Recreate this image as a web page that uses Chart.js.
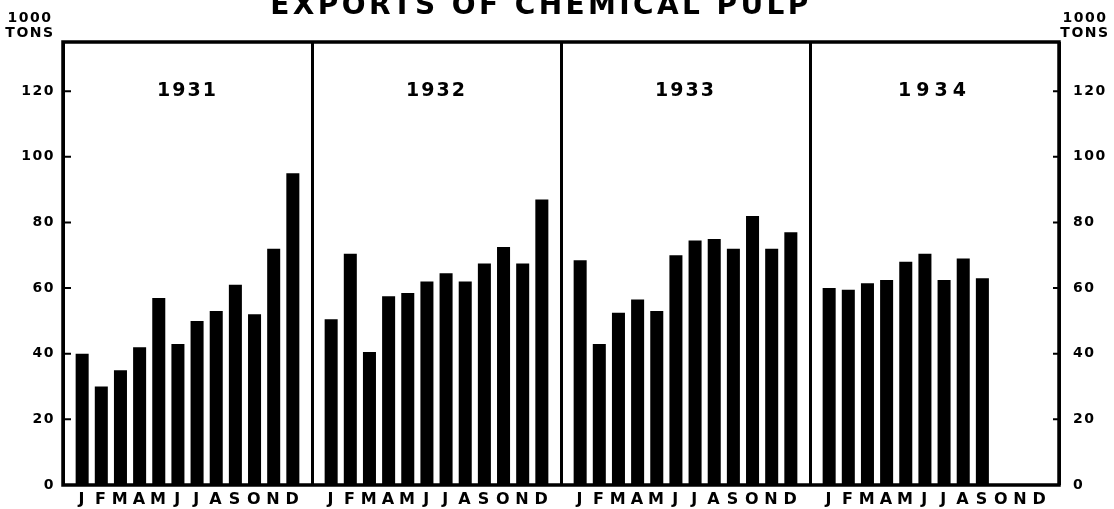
<!DOCTYPE html>
<html>
<head>
<meta charset="utf-8">
<script src="https://cdn.jsdelivr.net/npm/chart.js@4/dist/chart.umd.min.js"></script>
<style>
  body { margin: 0; background: #fff; }
  canvas { display: block; }
</style>
</head>
<body>
<canvas id="pulpChart" width="1114" height="509"></canvas>
<script>
// ================= DATA =================
const months = ['J', 'F', 'M', 'A', 'M', 'J', 'J', 'A', 'S', 'O', 'N', 'D'];
const years = ['1931', '1932', '1933', '1934'];
// exports of chemical pulp, 1000 tons per month
const exports1931 = [40, 30, 35, 42, 57, 43, 50, 53, 61, 52, 72, 95];
const exports1932 = [50.5, 70.5, 40.5, 57.5, 58.5, 62, 64.5, 62, 67.5, 72.5, 67.5, 87];
const exports1933 = [68.5, 43, 52.5, 56.5, 53, 70, 74.5, 75, 72, 82, 72, 77];
const exports1934 = [60, 59.5, 61.5, 62.5, 68, 70.5, 62.5, 69, 63, null, null, null];
const yTicks = [0, 20, 40, 60, 80, 100, 120];
const yMax = 135;

// --- build category table: one empty slot between years (used as divider) ---
const yearValues = [exports1931, exports1932, exports1933, exports1934];
const labels = [''];
const monthly = [null];
years.forEach((yr, i) => {
    months.forEach((m, j) => {
        labels.push(m);
        monthly.push(yearValues[i][j]);
    });
    labels.push('');
    monthly.push(null);
});

const FONT = '"DejaVu Sans", sans-serif';

// ================= PLUGINS =================
// frame, inward ticks, title, year captions, unit captions
const framePlugin = {
    id: 'frame',
    beforeDraw(chart) {
        chart.ctx.letterSpacing = '1.5px';
    },
    afterDatasetsDraw(chart) {
        const { ctx, chartArea: a, scales } = chart;
        ctx.save();
        ctx.strokeStyle = '#000';
        ctx.lineWidth = 3.5;
        ctx.strokeRect(a.left, a.top, a.right - a.left, a.bottom - a.top);

        // small inward ticks on both sides
        ctx.lineWidth = 2;
        scales.y.ticks.forEach(t => {
            const y = scales.y.getPixelForValue(t.value);
            ctx.beginPath();
            ctx.moveTo(a.left, y);
            ctx.lineTo(a.left + 8, y);
            ctx.moveTo(a.right, y);
            ctx.lineTo(a.right - 6, y);
            ctx.stroke();
        });

        // year captions, centred over each year's months
        ctx.fillStyle = '#000';
        ctx.textAlign = 'center';
        ctx.textBaseline = 'middle';
        ctx.font = 'bold 19px ' + FONT;
        years.forEach((yr, i) => {
            const first = 1 + i * 13;
            const xMid = (scales.x.getPixelForValue(first) + scales.x.getPixelForValue(first + 11)) / 2;
            ctx.letterSpacing = i === 3 ? '5px' : '2px';
            ctx.fillText(yr, xMid, scales.y.getPixelForValue(120));
        });

        // title (top is cut off in the original print)
        ctx.font = 'bold 28px ' + FONT;
        ctx.letterSpacing = '3.4px';
        ctx.textBaseline = 'alphabetic';
        ctx.fillText('EXPORTS OF CHEMICAL PULP', (a.left + a.right) / 2 - 20, 14);

        // unit captions
        ctx.font = 'bold 14px ' + FONT;
        ctx.letterSpacing = '1.5px';
        [30, 1085].forEach(x => {
            ctx.fillText('1000', x, 22);
            ctx.fillText('TONS', x, 37);
        });
        ctx.restore();
    }
};

// ================= CHART =================
window.onload = function() {
    const tickFont = { family: FONT, size: 14, weight: 'bold' };
    const yAxisBase = {
        type: 'linear',
        min: 0,
        max: yMax,
        afterBuildTicks: s => { s.ticks = yTicks.map(v => ({ value: v })); },
        grid: { display: false, drawTicks: false },
        border: { display: false },
        ticks: { color: '#000', font: tickFont }
    };

    new Chart(document.getElementById('pulpChart'), {
        type: 'bar',
        data: {
            labels: labels,
            datasets: [{
                data: monthly,
                backgroundColor: '#000',
                barPercentage: 0.68,
                categoryPercentage: 1.0,
                yAxisID: 'y'
            }]
        },
        options: {
            responsive: false,
            animation: false,
            layout: { padding: { top: 42, left: 0, right: 0, bottom: 0 } },
            plugins: {
                legend: { display: false },
                tooltip: { enabled: false }
            },
            scales: {
                x: {
                    offset: false,
                    grid: {
                        offset: false,
                        drawTicks: false,
                        color: c => labels[c.index] === '' ? '#000' : 'rgba(0,0,0,0)',
                        lineWidth: 3
                    },
                    border: { display: false },
                    ticks: {
                        color: '#000',
                        font: { family: FONT, size: 16, weight: 'bold' },
                        autoSkip: false,
                        maxRotation: 0,
                        padding: 5
                    },
                    afterFit: s => { s.height = 24; }
                },
                y: {
                    ...yAxisBase,
                    position: 'left',
                    ticks: { ...yAxisBase.ticks, padding: 8 },
                    afterFit: s => { s.width = 63; }
                },
                y2: {
                    ...yAxisBase,
                    position: 'right',
                    ticks: { ...yAxisBase.ticks, padding: 14 },
                    afterFit: s => { s.width = 55; }
                }
            }
        },
        plugins: [framePlugin]
    });
};
</script>
</body>
</html>
